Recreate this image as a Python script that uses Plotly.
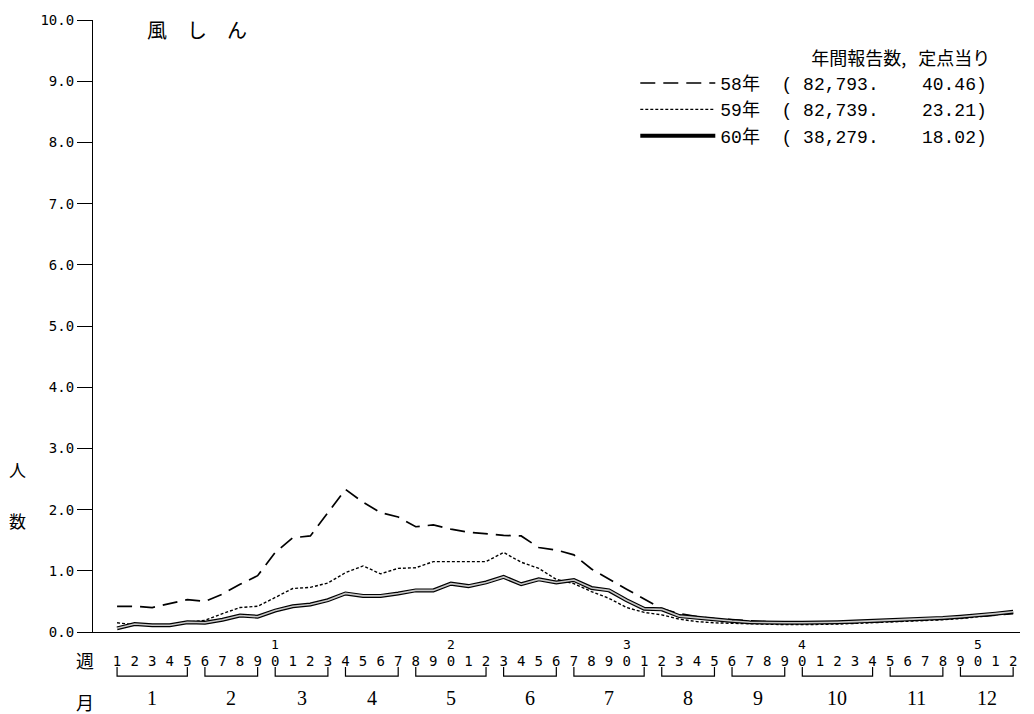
import plotly.graph_objects as go

weeks = list(range(1, 53))
week_labels = [str(w % 10) for w in weeks]
tens_weeks = [10, 20, 30, 40, 50]
tens_labels = ["1", "2", "3", "4", "5"]

months = [str(m) for m in range(1, 13)]
month_first_week = [1, 6, 10, 14, 18, 23, 27, 32, 36, 40, 45, 49]
month_last_week = [5, 9, 13, 17, 22, 26, 31, 35, 39, 44, 48, 52]

y_ticks = [0, 1, 2, 3, 4, 5, 6, 7, 8, 9, 10]
y_tick_labels = ["0.0", "1.0", "2.0", "3.0", "4.0", "5.0", "6.0", "7.0", "8.0", "9.0", "10.0"]

s58 = [0.42, 0.42, 0.40, 0.46, 0.53, 0.50, 0.62, 0.78, 0.92, 1.30,
       1.54, 1.57, 1.95, 2.33, 2.12, 1.95, 1.88, 1.72, 1.75, 1.68,
       1.63, 1.60, 1.58, 1.57, 1.38, 1.34, 1.26, 1.03, 0.86, 0.70,
       0.54, 0.38, 0.30, 0.25, 0.22, 0.20, 0.18, 0.16, 0.15, 0.15,
       0.15, 0.14, 0.15, 0.16, 0.17, 0.18, 0.19, 0.21, 0.23, 0.25,
       0.28, 0.30]
s59 = [0.15, 0.12, 0.11, 0.12, 0.16, 0.19, 0.30, 0.40, 0.42, 0.57,
       0.71, 0.73, 0.80, 0.97, 1.08, 0.95, 1.04, 1.05, 1.15, 1.15,
       1.15, 1.15, 1.30, 1.14, 1.04, 0.86, 0.79, 0.66, 0.55, 0.40,
       0.32, 0.28, 0.21, 0.17, 0.15, 0.14, 0.13, 0.12, 0.12, 0.12,
       0.12, 0.13, 0.14, 0.15, 0.16, 0.17, 0.18, 0.20, 0.22, 0.25,
       0.28, 0.31]
s60 = [0.06, 0.13, 0.11, 0.11, 0.16, 0.15, 0.20, 0.27, 0.25, 0.35,
       0.42, 0.45, 0.52, 0.63, 0.59, 0.59, 0.63, 0.68, 0.68, 0.79,
       0.75, 0.81, 0.90, 0.78, 0.86, 0.81, 0.85, 0.72, 0.68, 0.52,
       0.38, 0.37, 0.26, 0.23, 0.20, 0.18, 0.16, 0.15, 0.15, 0.15,
       0.15, 0.16, 0.17, 0.18, 0.19, 0.20, 0.21, 0.23, 0.25, 0.27,
       0.30, 0.33]

NB = "\u00a0"
series_names = [
    "58年" + NB * 2 + "(" + NB + "82,793." + NB * 4 + "40.46)",
    "59年" + NB * 2 + "(" + NB + "82,739." + NB * 4 + "23.21)",
    "60年" + NB * 2 + "(" + NB + "38,279." + NB * 4 + "18.02)",
]
legend_title = "年間報告数," + NB * 3 + "定点当り"
chart_title = "風\u3000し\u3000ん"

JP = "Noto Sans CJK JP"
MONO = "DejaVu Sans Mono"
LEGF = "Liberation Mono, Noto Sans CJK JP"
SERIF = "Liberation Serif"

fig = go.Figure()
fig.add_trace(go.Scatter(x=weeks, y=s58, mode="lines", name=series_names[0],
                         line=dict(color="black", width=1.7, dash="15px,8px")))
fig.add_trace(go.Scatter(x=weeks, y=s59, mode="lines", name=series_names[1],
                         line=dict(color="black", width=1.4, dash="3px,2px")))
fig.add_trace(go.Scatter(x=weeks, y=s60, mode="lines", name=series_names[2],
                         legendgroup="60",
                         line=dict(color="black", width=4)))
fig.add_trace(go.Scatter(x=weeks, y=s60, mode="lines", showlegend=False,
                         legendgroup="60", hoverinfo="skip",
                         line=dict(color="#c8c8c8", width=1.6)))

annotations = []
annotations.append(dict(text=chart_title, x=0.056, y=0.985, xref="paper", yref="paper",
                        xanchor="left", yanchor="middle", showarrow=False,
                        font=dict(family=JP, size=20, color="black")))
annotations.append(dict(text="人", x=-0.081, y=0.266, xref="paper", yref="paper",
                        xanchor="center", yanchor="middle", showarrow=False,
                        font=dict(family=JP, size=17, color="black")))
annotations.append(dict(text="数", x=-0.081, y=0.1815, xref="paper", yref="paper",
                        xanchor="center", yanchor="middle", showarrow=False,
                        font=dict(family=JP, size=17, color="black")))
annotations.append(dict(text="週", x=-0.0086, y=-0.045, xref="paper", yref="paper",
                        xanchor="center", yanchor="middle", showarrow=False,
                        font=dict(family=JP, size=18, color="black")))
annotations.append(dict(text="月", x=-0.0086, y=-0.114, xref="paper", yref="paper",
                        xanchor="center", yanchor="middle", showarrow=False,
                        font=dict(family=JP, size=18, color="black")))
for w, t in zip(tens_weeks, tens_labels):
    annotations.append(dict(text=t, x=w, y=-0.021, xref="x", yref="paper",
                            xanchor="center", yanchor="middle", showarrow=False,
                            font=dict(family=MONO, size=13, color="black")))
shapes = []
for m, a, b in zip(months, month_first_week, month_last_week):
    annotations.append(dict(text=m, x=(a + b) / 2, y=-0.108, xref="x", yref="paper",
                            xanchor="center", yanchor="middle", showarrow=False,
                            font=dict(family=SERIF, size=20, color="black")))
    shapes.append(dict(type="path", xref="x", yref="paper",
                       path=f"M {a},-0.057 L {a},-0.072 L {b},-0.072 L {b},-0.057",
                       line=dict(color="black", width=1.2)))

fig.update_layout(
    width=1034, height=714,
    margin=dict(l=93, r=14, t=15, b=82),
    paper_bgcolor="white", plot_bgcolor="white",
    showlegend=True,
    legend=dict(x=0.585, y=0.965, xanchor="left", yanchor="top",
                bgcolor="rgba(0,0,0,0)", itemwidth=75,
                font=dict(family=LEGF, size=18, color="black"),
                title=dict(text=legend_title, side="top right",
                           font=dict(family=JP, size=18, color="black")),
                tracegroupgap=0, traceorder="normal"),
    annotations=annotations,
    shapes=shapes,
)
fig.update_xaxes(range=[-0.37, 52.39], tickvals=weeks, ticktext=week_labels,
                 showgrid=False, zeroline=False, showline=True, linecolor="black",
                 linewidth=1.2, ticks="outside", ticklen=16,
                 tickcolor="rgba(0,0,0,0)",
                 tickfont=dict(family=MONO, size=14, color="black"))
fig.update_yaxes(range=[0, 10], tickvals=y_ticks, ticktext=y_tick_labels,
                 showgrid=False, zeroline=False, showline=True, linecolor="black",
                 linewidth=1.2, ticks="outside", ticklen=15, tickcolor="black",
                 tickwidth=1.2, ticklabeloverflow="allow",
                 tickfont=dict(family=MONO, size=14, color="black"))

fig.write_html("out.html", config={"displayModeBar": False},
               post_script="document.body.style.margin='0px';")
